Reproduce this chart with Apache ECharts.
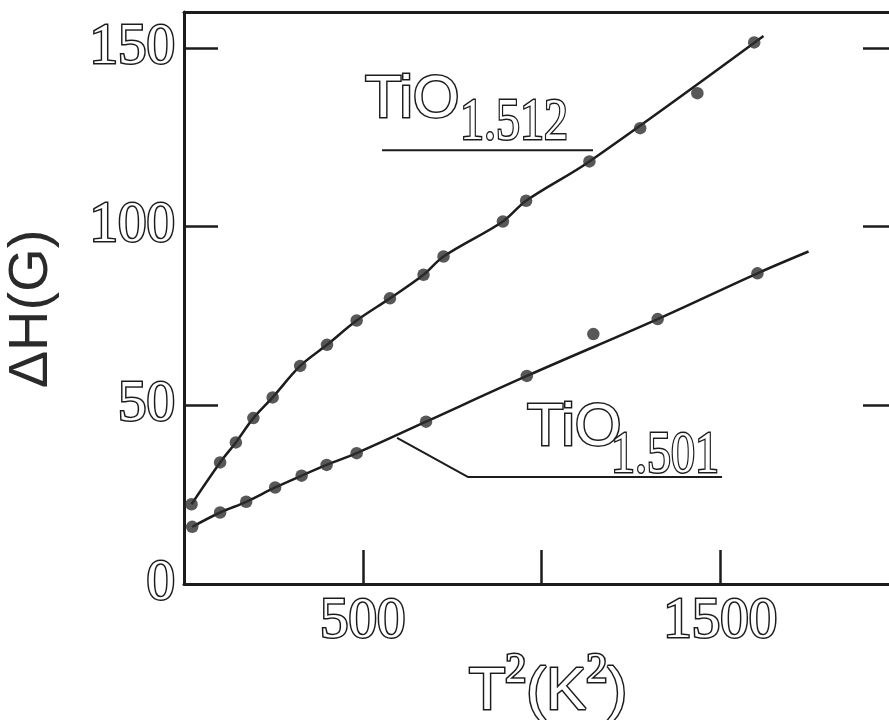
<!DOCTYPE html>
<html><head><meta charset="utf-8">
<script src="https://cdn.jsdelivr.net/npm/echarts@6/dist/echarts.min.js"></script>
<style>html,body{margin:0;padding:0;background:#fff}#c{width:889px;height:720px}</style>
</head><body><div id="c"></div>
<script>
// ---- data ----
const xLabelValues = [500, 1500];          // x tick labels shown
const yLabelValues = [0, 50, 100, 150];    // y tick labels shown
const upperLabel = ['TiO', '1.512'];
const lowerLabel = ['TiO', '1.501'];

// TiO1.512 measured points  [T^2 (K^2), ΔH (G)]
const upperPoints = [[21,22.3],[101,34.0],[145,39.6],[194,46.4],[248,52.2],[325,61.0],[400,66.9],[483,73.7],[576,79.9],[670,86.5],[726,91.6],[892,101.4],[957,107.2],[1134,118.2],[1276,127.5],[1436,137.3],[1595,151.5]];
// TiO1.512 drawn curve
const upperCurve = [[21,22.3],[101,34.0],[145,39.6],[194,46.4],[248,52.2],[325,61.0],[400,66.9],[483,73.7],[576,79.9],[670,86.5],[726,91.6],[892,101.4],[957,107.2],[1134,118.2],[1621,153.3]];

// TiO1.501 measured points
const lowerPoints = [[23,16.0],[101,20.0],[174,23.0],[255,27.0],[329,30.3],[399,33.3],[483,36.6],[677,45.4],[959,58.2],[1145,69.9],[1325,74.1],[1604,86.9]];
// TiO1.501 drawn curve
const lowerCurve = [[23,16.0],[101,20.0],[174,23.0],[255,27.0],[329,30.3],[399,33.3],[483,36.6],[677,45.4],[959,58.2],[1325,74.1],[1604,86.9],[1747,93.0]];

// label leader lines (data coordinates)
const upperLeader = [[554,121.3],[1144,121.3]];
const lowerLeader = [[596,40.9],[795,29.9],[1505,29.9]];

// ---- chart ----
const INK = '#1c1c1c';
const hollow = {color:'#fff', textBorderColor: INK, textBorderWidth: 3};
const chart = echarts.init(document.getElementById('c'), null, {renderer:'canvas'});

const option = {
  backgroundColor: '#fff',
  animation: false,
  grid: {left:184, top:12, width:715, height:572, containLabel:false, outerBoundsMode:'none'},
  xAxis: [{
    type:'value', min:0, max:2000, interval:500, position:'bottom',
    axisLine:{show:true, onZero:false, lineStyle:{color:INK, width:3}},
    axisTick:{show:true, inside:true, length:34, lineStyle:{color:INK, width:2.5}},
    splitLine:{show:false},
    axisLabel:Object.assign({
      fontFamily:'Liberation Sans Narrow', fontSize:57, lineHeight:60, margin:8,
      formatter: v => xLabelValues.includes(v) ? String(v) : ''
    }, hollow),
    name:'{b|T}{s|2}{b|(K}{s|2}{b|)}', nameLocation:'middle', nameGap:66, nameMoveOverlap:false,
    nameTextStyle:{
      padding:[0,0,0,13],
      rich:{
        b:Object.assign({fontFamily:'Liberation Sans', fontSize:60, lineHeight:84}, hollow),
        s:Object.assign({fontFamily:'Liberation Sans Narrow', fontSize:42, lineHeight:14, verticalAlign:'top'}, hollow)
      }
    }
  },{
    type:'value', min:0, max:2000, position:'top',
    axisLine:{show:true, onZero:false, lineStyle:{color:INK, width:3}},
    axisTick:{show:false}, axisLabel:{show:false}, splitLine:{show:false}
  }],
  yAxis: [{
    type:'value', min:0, max:160, interval:50, position:'left',
    axisLine:{show:true, onZero:false, lineStyle:{color:INK, width:3}},
    axisTick:{show:true, inside:true, length:34, lineStyle:{color:INK, width:2.5}},
    splitLine:{show:false},
    axisLabel:Object.assign({
      fontFamily:'Liberation Sans Narrow', fontSize:57, lineHeight:60, margin:9,
      formatter: v => yLabelValues.includes(v) ? String(v) : ''
    }, hollow),
    name:'ΔH(G)', nameLocation:'middle', nameGap:124, nameRotate:90, nameMoveOverlap:false,
    nameTextStyle:{fontFamily:'Liberation Sans', fontSize:56, padding:[0,22,0,0], color:'#2a2a2a'}
  },{
    type:'value', min:0, max:160, interval:50, position:'right',
    axisLine:{show:true, onZero:false, lineStyle:{color:INK, width:3}},
    axisTick:{show:true, inside:true, length:36, lineStyle:{color:INK, width:2.5}},
    axisLabel:{show:false}, splitLine:{show:false}
  }],
  series: [
    {type:'line', data:upperCurve, smooth:0.35, showSymbol:false, lineStyle:{color:INK, width:2.5}, z:2},
    {type:'line', data:lowerCurve, smooth:0.35, showSymbol:false, lineStyle:{color:INK, width:2.5}, z:2},
    {type:'line', data:upperLeader, showSymbol:false, lineStyle:{color:INK, width:2}, z:2},
    {type:'line', data:lowerLeader, showSymbol:false, lineStyle:{color:INK, width:2}, z:2},
    {type:'scatter', data:upperPoints, symbol:'circle', symbolSize:12.5, itemStyle:{color:'#2e2e2e'}, z:3},
    {type:'scatter', data:lowerPoints, symbol:'circle', symbolSize:12.5, itemStyle:{color:'#2e2e2e'}, z:3}
  ],
  graphic: [
    {type:'text', x:365, y:70, style:{text:upperLabel[0], font:'60px "Liberation Sans"', fill:'#fff', stroke:INK, lineWidth:3, verticalAlign:'top', align:'left'}},
    {type:'text', x:460, y:93, scaleX:0.8, style:{text:upperLabel[1], font:'60px "Liberation Sans Narrow"', fill:'#fff', stroke:INK, lineWidth:3, verticalAlign:'top', align:'left'}},
    {type:'text', x:527, y:398, style:{text:lowerLabel[0], font:'60px "Liberation Sans"', fill:'#fff', stroke:INK, lineWidth:3, verticalAlign:'top', align:'left'}},
    {type:'text', x:611, y:426, scaleX:0.8, style:{text:lowerLabel[1], font:'60px "Liberation Sans Narrow"', fill:'#fff', stroke:INK, lineWidth:3, verticalAlign:'top', align:'left'}}
  ]
};
chart.setOption(option);
</script>
</body></html>
